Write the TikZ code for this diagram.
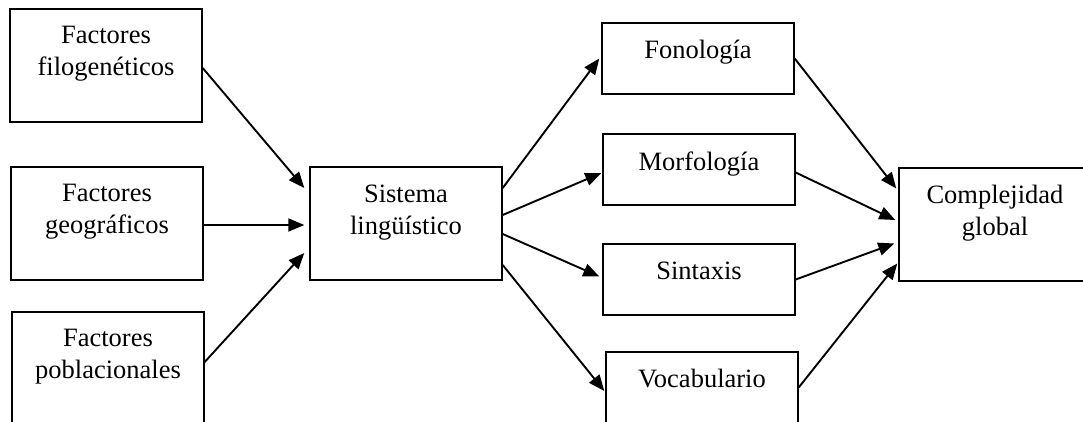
\documentclass[tikz,border=0pt]{standalone}
\usepackage{fontspec}
\setmainfont{Liberation Serif}
\usetikzlibrary{arrows.meta}

\tikzset{
    caja/.style={draw, line width=1.4pt, minimum width=192pt, inner sep=0pt},
    alta/.style={caja, minimum height=113pt},
    baja/.style={caja, minimum height=71pt},
    texto/.style={anchor=north, align=center, inner sep=0pt, yshift=-18pt},
    flecha/.style={line width=1.9pt, -{Triangle[length=16pt, width=13pt]}}
}

\begin{document}
\begin{tikzpicture}[x=1pt, y=-1pt, font=\fontsize{26.5pt}{32pt}\selectfont]
            \useasboundingbox (0,0) rectangle (1083,422);
            \clip (0,0) rectangle (1083,422);

            % factores
            \node[alta, label={[texto]north:Factores\\filogenéticos}] (filo) at (106,65.5) {};
            \node[alta, label={[texto]north:Factores\\geográficos}] (geo) at (107,223.5) {};
            \node[alta, label={[texto]north:Factores\\poblacionales}] (pobl) at (108,368.5) {};

            \node[alta, label={[texto]north:Sistema\\lingüístico}] (sis) at (406,223.5) {};

            % componentes
            \node[baja, label={[texto]north:Fonología}] (fon) at (698,58.5) {};
            \node[baja, label={[texto]north:Morfología}] (mor) at (699,169.5) {};
            \node[baja, label={[texto]north:Sintaxis}] (sin) at (699,279.5) {};
            \node[baja, label={[texto]north:Vocabulario}] (voc) at (702,387.5) {};

            \node[alta, label={[texto]north:Complejidad\\global}] (com) at (995,224.5) {};

            \draw[flecha] ([yshift=-2.5pt]filo.east) -- ([xshift=-5pt,yshift=35.5pt]sis.west);
            \draw[flecha] ([yshift=-1.5pt]geo.east) -- ([xshift=-5pt,yshift=-1.5pt]sis.west);
            \draw[flecha] ([yshift=6.5pt]pobl.east) -- ([xshift=-5pt,yshift=-29.5pt]sis.west);

            \draw[flecha] ([yshift=35.5pt]sis.east) -- ([xshift=-2pt]fon.west);
            \draw[flecha] ([yshift=8.5pt]sis.east) -- ([xshift=-1pt,yshift=-3.5pt]mor.west);
            \draw[flecha] ([yshift=-10.5pt]sis.east) -- ([xshift=-3pt,yshift=3pt]sin.west);
            \draw[flecha] ([yshift=-41.5pt]sis.east) -- ([xshift=-1pt,yshift=-3.5pt]voc.west);

            \draw[flecha] (fon.east) -- ([xshift=-2pt,yshift=36pt]com.west);
            \draw[flecha] ([yshift=-3pt]mor.east) -- ([xshift=-3pt,yshift=4.5pt]com.west);
            \draw[flecha] (sin.east) -- ([xshift=-4pt,yshift=-19pt]com.west);
            \draw[flecha] (voc.east) -- ([xshift=-1pt,yshift=-39pt]com.west);
\end{tikzpicture}
\end{document}
